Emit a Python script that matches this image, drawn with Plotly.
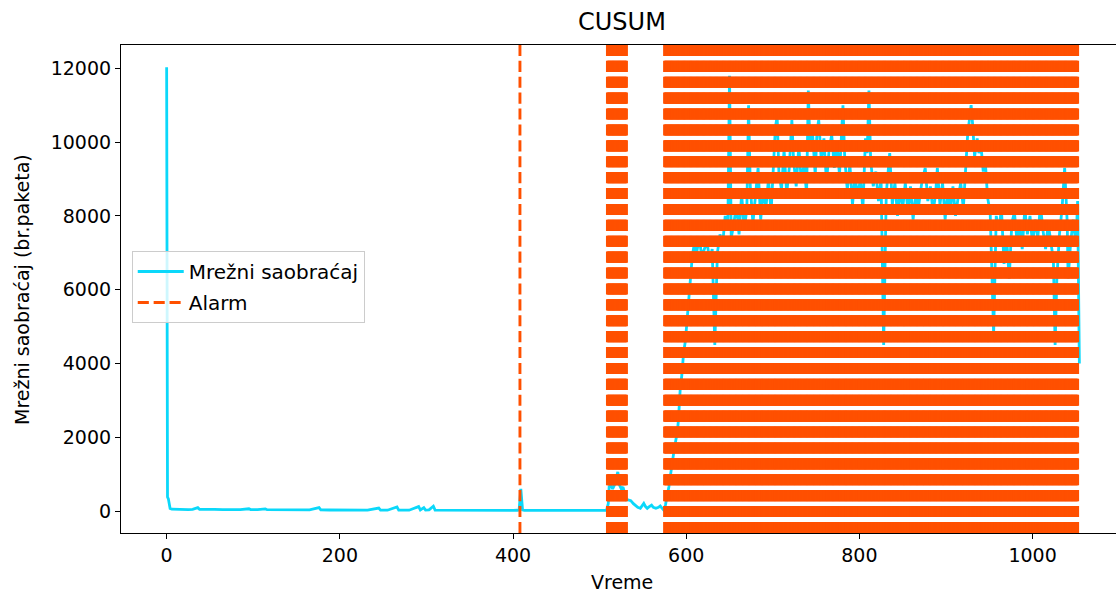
import plotly.graph_objects as go

# ---------------- data ----------------
traffic_x = [0, 1, 2, 3, 4, 6, 10, 15, 20, 25, 30, 36, 38, 45, 55, 65, 75, 85, 95, 97, 105,
             114, 116, 125, 135, 145, 155, 165, 176, 178, 188, 198, 210, 220, 232, 245, 247,
             255, 266, 268, 280, 291, 293, 297, 299, 303, 308, 310, 320, 330, 340, 350, 360,
             370, 380, 390, 400, 405, 407, 409, 411, 413, 420, 430, 440, 450, 460, 470, 480,
             490, 500, 505, 508, 510, 511, 513, 515, 517, 519, 521, 523, 525, 527, 529, 531,
             533, 536, 539, 541, 544, 547, 549, 551, 553, 555, 557, 560, 562, 565, 568, 570,
             572, 574, 576, 578, 580, 582, 584, 586, 588, 590, 591, 593, 595, 597, 599, 601,
             603, 605, 607,
             609, 612, 615, 618, 621, 624, 627, 630, 633, 636, 639, 642, 645, 648, 650, 652,
             655, 658, 661, 664, 667, 670, 672, 674, 677, 680, 683, 686, 689, 692, 695, 698,
             701, 703, 705, 707, 710, 713, 716, 719, 722, 724, 727, 730, 733, 736, 739, 741,
             743, 746, 749, 751, 753, 756, 759, 762, 765, 768, 771, 774, 777, 779, 781, 783,
             786, 789, 792, 795, 798, 801, 804, 807, 809, 811, 813, 816, 819, 822, 825, 828,
             831, 835, 838, 841, 844, 847, 850, 853, 856, 859, 862, 865, 868, 872, 876, 879,
             882, 885, 888, 890, 893, 896, 899, 902, 905, 908, 911, 914, 917, 920, 923, 925,
             927, 929, 931, 933, 936, 938, 940, 943, 945, 948, 951, 955, 958, 961, 964, 967,
             970, 973, 976, 979, 982, 985, 988, 991, 994, 997, 1000, 1003, 1006, 1009, 1012,
             1015, 1018, 1021, 1024, 1026, 1028, 1031, 1034, 1037, 1040, 1041, 1044, 1047,
             1050, 1052, 1054]
traffic_y = [12030, 380, 330, 150, 70, 50, 45, 42, 45, 40, 45, 90, 48, 40, 45, 38, 40, 35, 60, 38, 35,
             55, 36, 32, 35, 30, 28, 30, 90, 30, 28, 25, 28, 25, 22, 80, 25,
             22, 110, 25, 22, 120, 30, 90, 25, 30, 130, 25, 22, 20, 22, 20, 18,
             20, 18, 20, 18, 20, 25, 600, 30, 18, 17, 18, 16, 18, 15, 17, 16,
             18, 15, 17, 20, 200, 660, 700, 600, 700, 900, 1060, 700, 600, 650, 500, 300,
             300, 280, 200, 160, 100, 73, 150, 208, 120, 73, 110, 160, 100, 73, 100, 135,
             80, 27, 160, 400, 660, 1000, 1380, 1650, 1920, 2200, 2470, 3280, 3700, 4300, 4600, 5200,
             5800, 6500, 6900,
             7200, 7000, 7400, 6900, 7100, 7300, 6800, 7100, 4500, 7000, 7500, 7200, 8000, 7600, 11800, 7400,
             7800, 8300, 7500, 8600, 7600, 8200, 11000, 8800, 7800, 8600, 9300, 7900, 8700, 8200, 9000, 8100,
             9600, 10400, 10700, 9200, 8700, 9800, 8600, 9300, 10600, 9500, 8800, 9900, 8900, 9400, 8600, 11400,
             9800, 10200, 9100, 10300, 10600, 9500, 10100, 8900, 9800, 10200, 9300, 10000, 9100, 10300, 11000, 9600,
             8700, 9400, 8300, 9100, 8500, 9000, 8200, 10100, 9700, 11400, 9500, 8800, 9200, 8400, 9000, 4500,
             8600, 9700, 8300, 8900, 8000, 8700, 8200, 8900, 8100, 8800, 7900, 8600, 8200, 8900, 9300, 8400,
             8800, 8100, 8600, 9300, 8300, 8900, 7900, 8700, 8100, 8800, 8000, 8500, 8900, 8200, 9400, 10200,
             10600, 11000, 10400, 9600, 10100, 9700, 10000, 9200, 9600, 8500, 8100, 4800, 8000, 7600, 8200, 6700,
             7400, 6300, 7800, 8100, 7300, 7800, 7100, 8200, 7500, 8000, 7200, 7900, 7400, 8300, 7600,
             7100, 7800, 7300, 6800, 4500, 6300, 7500, 8200, 9300, 7800, 6300, 7300, 7900,
             7200, 8400, 4000]

alarm_x = [408] + list(range(509, 532)) + list(range(575, 1053))

x_ticks = [0, 200, 400, 600, 800, 1000]
y_ticks = [0, 2000, 4000, 6000, 8000, 10000, 12000]

title_text = "CUSUM"
x_label = "Vreme"
y_label = "Mrežni saobraćaj (br.paketa)"
series_names = ["Mrežni saobraćaj", "Alarm"]

# ---------------- styling ----------------
FONT = "DejaVu Sans"
CYAN = "#0bd8fa"
ORANGE = "#ff5000"

# build alarm vertical segments (bottom -> top on a hidden [0,1] axis)
ax, ay = [], []
for xv in alarm_x:
    ax += [xv, xv, None]
    ay += [0, 1, None]

fig = go.Figure()
fig.add_trace(go.Scatter(
    x=traffic_x, y=traffic_y, mode="lines", name=series_names[0],
    line=dict(color=CYAN, width=2.8), legendgroup="a", hoverinfo="skip"))
fig.add_trace(go.Scatter(
    x=ax, y=ay, yaxis="y2", mode="lines", name=series_names[1],
    line=dict(color=ORANGE, width=2.9, dash="11.1px,4.8px"),
    connectgaps=False, legendgroup="b", hoverinfo="skip"))

axis_common = dict(
    showgrid=False, zeroline=False, showline=True, linecolor="black", linewidth=1.1,
    ticks="outside", ticklen=5, tickwidth=1.1, tickcolor="black",
    tickfont=dict(family=FONT, size=19, color="black"),
)

fig.update_layout(
    width=1116, height=596,
    margin=dict(l=121, r=0, t=45, b=63),
    paper_bgcolor="white", plot_bgcolor="white",
    font=dict(family=FONT, color="black"),
    xaxis=dict(range=[-52.7, 1096.3], tickvals=x_ticks, mirror=True, **axis_common),
    yaxis=dict(range=[-596, 12632], tickvals=y_ticks, tickformat="d", **axis_common),
    yaxis2=dict(range=[0, 1], overlaying="y", visible=False),
    showlegend=True,
    legend=dict(
        x=0.0108, y=0.5779, xanchor="left", yanchor="top",
        bgcolor="rgba(255,255,255,0.8)", bordercolor="#cccccc", borderwidth=1,
        font=dict(family=FONT, size=20, color="black"),
        traceorder="grouped", tracegroupgap=2, itemwidth=46,
    ),
    annotations=[
        dict(text=title_text, xref="paper", yref="paper", x=0.5037, y=1.0471,
             xanchor="center", yanchor="middle", showarrow=False,
             font=dict(family=FONT, size=24, color="black")),
        dict(text=x_label, xref="paper", yref="paper", x=0.5037, y=-0.1004,
             xanchor="center", yanchor="middle", showarrow=False,
             font=dict(family=FONT, size=19, color="black")),
        dict(text=y_label, xref="paper", yref="paper", x=-0.0995, y=0.5,
             xanchor="center", yanchor="middle", showarrow=False, textangle=-90,
             font=dict(family=FONT, size=19, color="black")),
    ],
)

fig.write_html("out.html")
